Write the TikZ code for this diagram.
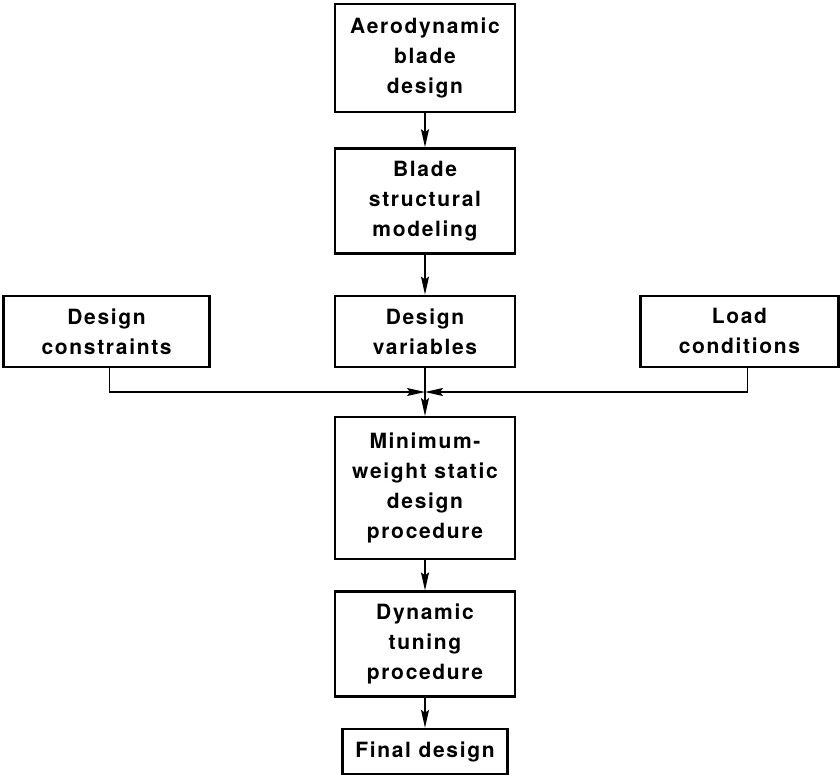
\documentclass[tikz,border=0pt]{standalone}
\usepackage{fontspec}
\setmainfont[LetterSpace=8]{TeX Gyre Heros}
\usepackage{tikz}
\usetikzlibrary{arrows.meta, positioning}

\begin{document}
\begin{tikzpicture}[
        x=1pt, y=1pt,
        every node/.style={font=\bfseries\fontsize{21}{30}\selectfont},
        blk/.style={rectangle, draw, line width=2.4pt, minimum width=180pt, align=center, inner sep=0pt},
        arrow/.style={-{Stealth[length=18pt, width=8pt, inset=3pt]}, line width=1.4pt}
    ]
        \useasboundingbox (0,0) rectangle (840,-774);

        \node[blk, minimum height=108pt] (aero) at (425,-58) {Aerodynamic\\blade\\design};
        \node[blk, minimum height=105pt, below=34pt of aero] (struct) {Blade\\structural\\modeling};
        \node[blk, minimum height=71pt, below=40pt of struct] (vars) {Design\\variables};
        \node[blk, minimum height=71pt, minimum width=206pt, left=123pt of vars] (cons) {Design\\constraints};
        \node[blk, minimum height=71pt, minimum width=198pt, right=123pt of vars] (load) {Load\\conditions};
        \node[blk, minimum height=142pt, below=48pt of vars] (minw) {Minimum-\\weight static\\design\\procedure};
        \node[blk, minimum height=105pt, below=30pt of minw] (dyn) {Dynamic\\tuning\\procedure};
        \node[blk, minimum height=45pt, minimum width=165pt, below=30pt of dyn] (final) {Final design};

        \coordinate[below=24pt of vars] (join);

        % Arrows
        \draw[arrow] (aero) -- (struct);
        \draw[arrow] (struct) -- (vars);
        \draw[line width=1.4pt] (vars) -- (join);
        \draw[arrow] (join) -- (minw);
        \draw[arrow] (minw) -- (dyn);
        \draw[arrow] (dyn) -- (final);

        % Side inputs
        \draw[arrow] ([xshift=3pt]cons.south) |- (join);
        \draw[arrow] ([xshift=8pt]load.south) |- (join);

    \end{tikzpicture}
\end{document}
